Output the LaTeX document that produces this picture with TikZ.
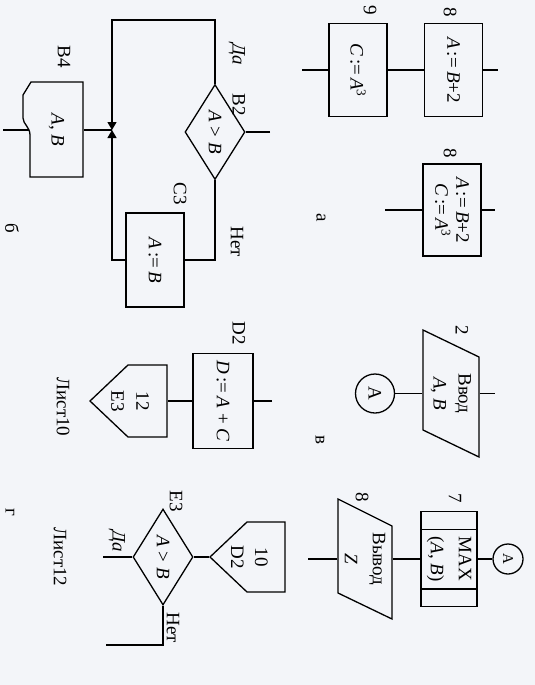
\documentclass[tikz,border=0pt]{standalone}
\usepackage{fontspec}
\setmainfont{Liberation Serif}
\usetikzlibrary{shapes.geometric, arrows.meta, calc}
\newcommand{\vr}[1]{\textit{#1}}
\newcommand{\asn}{\,:=\,}
\definecolor{paper}{RGB}{243,245,249}
\tikzset{
  blk/.style={draw, rectangle, minimum width=93pt, minimum height=58pt,
    inner sep=0pt, align=center},
  cond/.style={draw, diamond, aspect=1.6, minimum width=95pt,
    minimum height=60pt, inner sep=0pt},
  txt/.style={inner sep=0pt, align=center},
  conn/.style={draw, circle, inner sep=0pt},
  lbl/.style={inner sep=0pt}
}
\begin{document}
\begin{tikzpicture}[x=1pt, y=1pt, rotate=-90, transform shape,
  line width=1.3pt, font=\fontsize{19}{24}\selectfont,
  >={Triangle[length=8pt, width=9pt]}]
  \useasboundingbox (0,0) rectangle (685,535);
  \fill[paper] (0,0) rectangle (685,535);
  % panel a: process blocks
  \node[blk] (c9) at (70,358) {\vr{C}\asn\vr{A}\textsuperscript{3}};
  \node[blk] (a8) at (70,453.5) {\vr{A}\asn\vr{B}+2};
  \node[blk, minimum width=92pt] (ac8) at (210,452)
    {\vr{A}\asn\vr{B}+2\\[-3pt]\vr{C}\asn\vr{A}\textsuperscript{3}};
  \node[lbl] at (10,370) {9};
  \node[lbl] at (12,450) {8};
  \node[lbl] at (153,450) {8};
  \node[lbl] at (218,321) {а};
  \coordinate (a8top) at (70,498);
  \coordinate (c9bot) at (70,302);
  \coordinate (ac8top) at (210,495);
  \coordinate (ac8bot) at (210,385);
  \draw (c9.north) -- (a8.south);
  \draw (a8.north) -- (a8top);
  \draw (c9.south) -- (c9bot);
  \draw (ac8.north) -- (ac8top);
  \draw (ac8.south) -- (ac8bot);
  % panel v: input and connector
  \draw (330,423) -- (430,423) -- (457,479) -- (357,479) -- cycle;
  \node[txt, minimum height=56pt] (in2) at (393.5,451)
    {Ввод\\[1pt]\vr{A}, \vr{B}};
  \node[conn, minimum size=39pt] (conA) at (393.5,375) {А};
  \node[lbl] at (330,462) {2};
  \node[lbl] at (440,320) {в};
  \coordinate (in2top) at (393.5,495);
  \draw (in2.north) -- (in2top);
  \draw (in2.south) -- (conA.north);
  % panel b: branch with merge
  \node[cond] (b2) at (132,215) {\vr{A} > \vr{B}};
  \node[blk, minimum width=94pt] (c3) at (260,155) {\vr{A}\asn\vr{B}};
  \draw (82,83) -- (177,83) -- (177,30) -- (135,30)
    .. controls (127,30) and (124,23) .. (118,23) -- (95,23) -- (82,31) -- cycle;
  \node[txt, minimum width=95pt, minimum height=53pt] (b4) at (130,56.5)
    {\vr{A}, \vr{B}};
  \node[lbl] at (105,239) {B2};
  \node[lbl] at (54,237) {\textit{Да}};
  \node[lbl] at (194,180) {C3};
  \node[lbl] at (242,237) {Нет};
  \node[lbl] at (57,64) {B4};
  \node[lbl] at (228,12) {б};
  \coordinate (b2in) at (132,270);
  \coordinate (yesb) at (20,215);
  \coordinate (jn) at (130,112);
  \coordinate (b4out) at (130,3);
  \draw (b2in) -- (b2.north);
  \draw[->] (b2.west) -- (yesb) |- (jn);
  \draw (b2.east) -| (c3.north);
  \draw[->] (c3.south) |- (jn);
  \draw (jn) -- (b4.north);
  \draw (b4.south) -- (b4out);
  % panel g: sheet 10
  \node[blk, minimum width=95pt, minimum height=60pt] (d2) at (401,223)
    {\vr{D}\asn\vr{A} + \vr{C}};
  \draw (365,167) -- (437,167) -- (437,128) -- (401,90) -- (365,128) -- cycle;
  \node[txt, minimum width=72pt, minimum height=74pt] (p12) at (401,130)
    {12\\[1pt]E3};
  \node[lbl] at (333,239) {D2};
  \node[lbl] at (407,63) {Лист10};
  \coordinate (d2in) at (401,272);
  \draw (d2in) -- (d2.north);
  \draw (d2.south) -- (p12.north);
  % panel g: sheet 12
  \draw (522,285) -- (592,285) -- (592,247) -- (557,210) -- (522,247) -- cycle;
  \node[txt, minimum width=70pt, minimum height=79pt] (p10) at (557,249.5)
    {10\\[0pt]D2};
  \node[cond, minimum width=96pt] (e3) at (557,163) {\vr{A} > \vr{B}};
  \node[lbl] at (501,176) {E3};
  \node[lbl] at (541,117) {\textit{Да}};
  \node[lbl] at (628,173) {Нет};
  \node[lbl] at (557,60) {Лист12};
  \node[lbl] at (512,10) {г};
  \coordinate (e3yes) at (557,103);
  \coordinate (e3no) at (645,106);
  \draw (p10.south) -- (e3.north);
  \draw (e3.south) -- (e3yes);
  \draw (e3.east) -| (e3no);
  % panel v: subroutine and output
  \node[blk, minimum width=95pt, minimum height=56pt] (m7) at (559,449)
    {MAX\\[4pt](\vr{A}, \vr{B})};
  \draw ($(m7.north west)!0.19!(m7.north east)$)
    -- ($(m7.south west)!0.19!(m7.south east)$);
  \draw ($(m7.north west)!0.81!(m7.north east)$)
    -- ($(m7.south west)!0.81!(m7.south east)$);
  \node[conn, minimum size=30pt, font=\fontsize{15}{17}\selectfont] (conA2)
    at (559,508) {А};
  \draw (499,338) -- (593,338) -- (619,392) -- (526,392) -- cycle;
  \node[txt, minimum height=54pt] (out8) at (559,365) {Вывод\\[4pt]\vr{Z}};
  \node[lbl] at (498,455) {7};
  \node[lbl] at (497,362) {8};
  \coordinate (out8bot) at (559,308);
  \draw (m7.north) -- (conA2.south);
  \draw (m7.south) -- (out8.north);
  \draw (out8.south) -- (out8bot);
\end{tikzpicture}
\end{document}
